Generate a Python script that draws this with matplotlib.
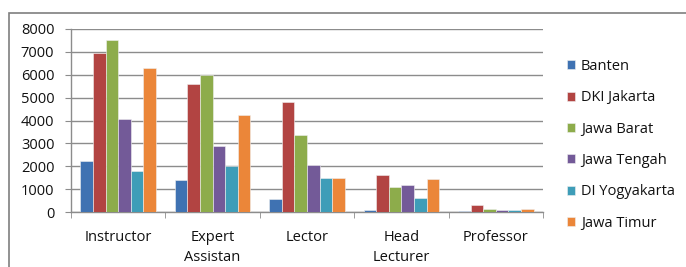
import numpy as np
import matplotlib.pyplot as plt
from matplotlib.patches import Rectangle

# data
kategori = ['Instructor', 'Expert\nAssistan', 'Lector', 'Head\nLecturer', 'Professor']
provinsi = ['Banten', 'DKI Jakarta', 'Jawa Barat', 'Jawa Tengah', 'DI Yogyakarta', 'Jawa Timur']
banten = [2250, 1420, 550, 90, 30]
dki_jakarta = [6950, 5600, 4800, 1600, 320]
jawa_barat = [7500, 6000, 3350, 1100, 150]
jawa_tengah = [4050, 2900, 2050, 1180, 90]
di_yogyakarta = [1800, 2000, 1500, 600, 90]
jawa_timur = [6300, 4220, 1500, 1450, 150]
yticks = [0, 1000, 2000, 3000, 4000, 5000, 6000, 7000, 8000]

series = [banten, dki_jakarta, jawa_barat, jawa_tengah, di_yogyakarta, jawa_timur]
warna = ['#3F72B2', '#B24442', '#8DAC4B', '#735A98', '#3E9DB8', '#EB8639']

plt.rcParams['font.family'] = ['Open Sans', 'DejaVu Sans']

fig = plt.figure(figsize=(6.86, 2.67), dpi=100)
# bingkai luar grafik (terpotong di kanan dan bawah seperti hasil scan)
fig.patches.append(Rectangle((9 / 686, -0.1), 1.0, 1 - 13 / 267 + 0.1,
                             transform=fig.transFigure, fill=False,
                             edgecolor='#7f7f7f', linewidth=1.2))

ax = fig.add_axes([71 / 686, 55 / 267, 472 / 686, 183 / 267])

x = np.arange(len(kategori))
lebar = 0.8 / len(series)
for i, (vals, nama, c) in enumerate(zip(series, provinsi, warna)):
    ax.bar(x - 0.4 + lebar * (i + 0.5), vals, width=lebar, color=c,
           label=nama, zorder=3, edgecolor='#f0f0f0', linewidth=0.4)

ax.set_xlim(-0.5, len(kategori) - 0.5)
ax.set_ylim(0, 8000)
ax.set_yticks(yticks)
ax.yaxis.grid(True, color='#8c8c8c', linewidth=1.0, zorder=0)
ax.tick_params(axis='y', labelsize=10.5, length=4, color='#8c8c8c', pad=8,
               labelcolor='#111111')

ax.set_xticks(x)
ax.set_xticklabels(kategori, fontsize=10.5, linespacing=1.45, va='top',
                   color='#111111')
ax.set_xticks(np.arange(len(kategori) + 1) - 0.5, minor=True)
ax.tick_params(axis='x', which='major', length=0, pad=13)
ax.tick_params(axis='x', which='minor', length=4, color='#8c8c8c')

for s in ['top', 'right']:
    ax.spines[s].set_visible(False)
for s in ['left', 'bottom']:
    ax.spines[s].set_color('#8c8c8c')
    ax.spines[s].set_linewidth(1.0)

leg = ax.legend(loc='upper left', bbox_to_anchor=(567 / 686, 1 - 59 / 267),
                bbox_transform=fig.transFigure, frameon=False, fontsize=10.5,
                handlelength=0.55, handleheight=0.55, handletextpad=0.4,
                labelspacing=1.12, borderpad=0, borderaxespad=0)
for t in leg.get_texts():
    t.set_color('#111111')

fig.savefig('out.png', dpi=100)
